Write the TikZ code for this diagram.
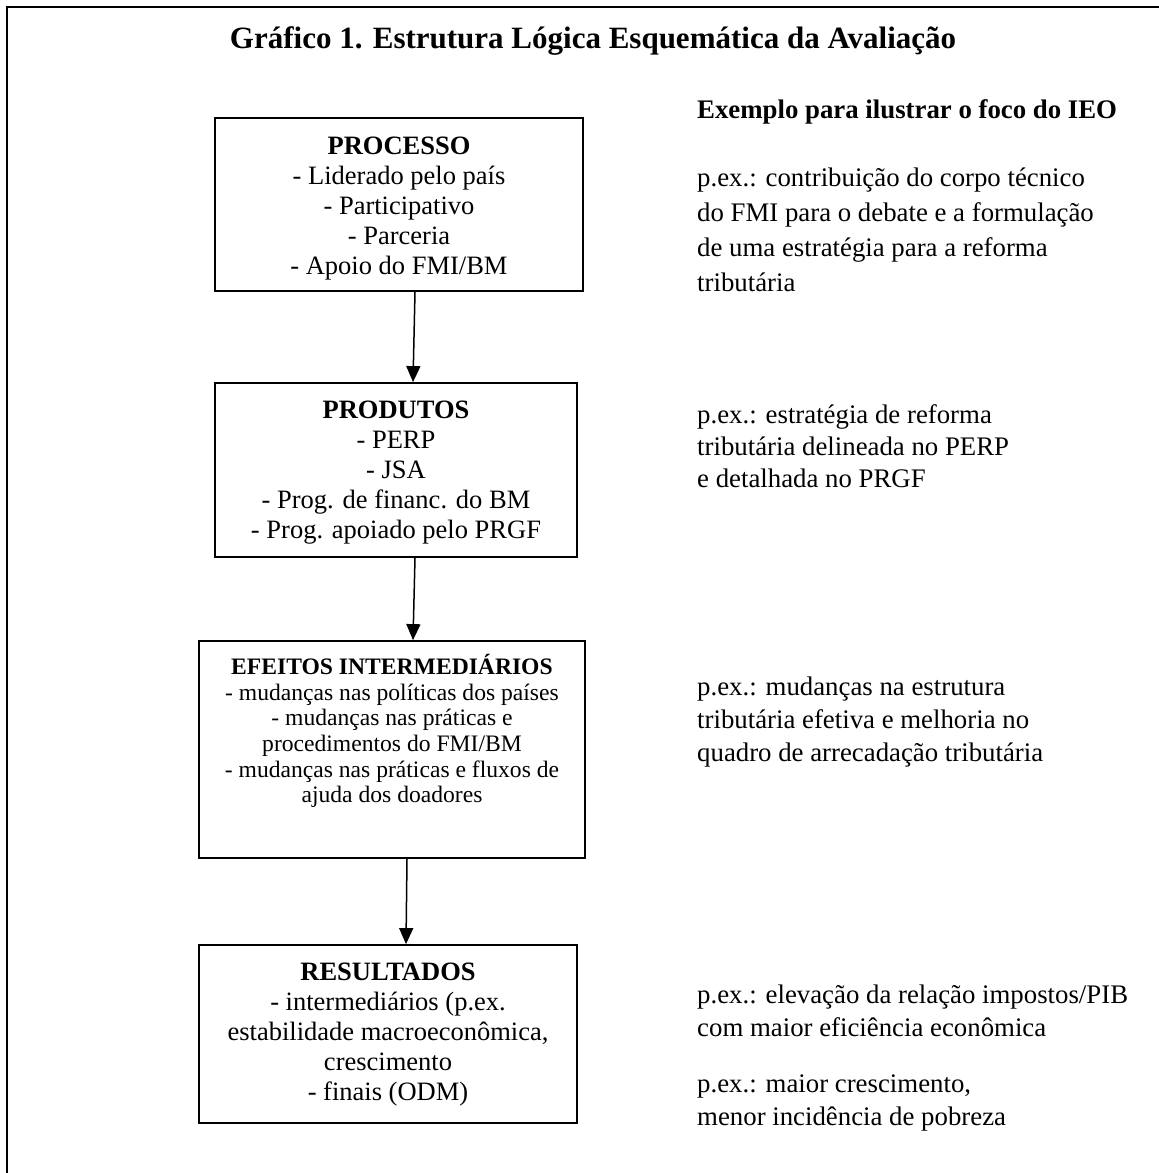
\documentclass[tikz,border=0pt]{standalone}
\usepackage{fontspec}
\setmainfont{Liberation Serif}
\usetikzlibrary{arrows.meta}
\newcommand\boxfont{\fontsize{26.5}{30}\selectfont}
\newcommand\efffont{\fontsize{23.6}{25.6}\selectfont}
\newcommand\sidefont{\fontsize{26.8}{33}\selectfont}
\newcommand\sidefontA{\fontsize{26.8}{35}\selectfont}
\newcommand\sidefontB{\fontsize{26.8}{32}\selectfont}
\newcommand\ttlfont{\fontsize{31}{36}\selectfont\bfseries}
\tikzset{
  stagebox/.style={draw, line width=1.8pt, inner sep=0pt},
  stagetext/.style={align=center, inner sep=0pt, font=\boxfont},
  sidetext/.style={align=left, inner sep=0pt, anchor=west, font=\sidefont},
  flowarrow/.style={line width=1.5pt, -{Triangle[width=14pt,length=16pt]}},
}
\begin{document}
\begin{tikzpicture}[x=1pt, y=-1pt]
\useasboundingbox (0,0) rectangle (1159,1173);
% outer frame (left and top edges)
\draw[line width=2.2pt] (7,1173) -- (7,7) -- (1159,7);

% title
\node[anchor=base, inner sep=0pt, font=\ttlfont] (title) at (593,48)
  {Gráfico 1. Estrutura Lógica Esquemática da Avaliação};

% boxes
\node[stagebox, minimum width=368pt, minimum height=173pt] (proc) at (399,204.5) {};
\node[stagebox, minimum width=362pt, minimum height=174pt] (prod) at (396,470) {};
\node[stagebox, minimum width=386pt, minimum height=217pt] (eff) at (392,749.5) {};
\node[stagebox, minimum width=378pt, minimum height=178pt] (res) at (388,1034) {};

% box texts
\node[stagetext] (proct) at (399,209) {\textbf{PROCESSO}\\- Liderado pelo país\\- Participativo\\- Parceria\\- Apoio do FMI/BM};
\node[stagetext] (prodt) at (396,473) {\textbf{PRODUTOS}\\- PERP\\- JSA\\- Prog. de financ. do BM\\- Prog. apoiado pelo PRGF};
\node[stagetext, font=\efffont] (efft) at (392,731) {\textbf{EFEITOS INTERMEDIÁRIOS}\\- mudanças nas políticas dos países\\- mudanças nas práticas e\\procedimentos do FMI/BM\\- mudanças nas práticas e fluxos de\\ajuda dos doadores};
\node[stagetext] (rest) at (388,1035) {\textbf{RESULTADOS}\\- intermediários (p.ex.\\estabilidade macroeconômica,\\crescimento\\- finais (ODM)};

% connectors
\draw[flowarrow] ([xshift=16pt]proc.south) -- ([xshift=17pt]prod.north);
\draw[flowarrow] ([xshift=19pt]prod.south) -- ([xshift=21pt]eff.north);
\draw[flowarrow] ([xshift=15pt]eff.south) -- ([xshift=18pt]res.north);

% right column
\node[anchor=base west, inner sep=0pt, font=\sidefont\bfseries] (head) at (697,118)
  {Exemplo para ilustrar o foco do IEO};
\node[sidetext, font=\sidefontA] (ex1) at (697,230) {p.ex.: contribuição do corpo técnico\\do FMI para o debate e a formulação\\de uma estratégia para a reforma\\tributária};
\node[sidetext, font=\sidefontB] (ex2) at (697,446) {p.ex.: estratégia de reforma\\tributária delineada no PERP\\e detalhada no PRGF};
\node[sidetext] (ex3) at (697,722) {p.ex.: mudanças na estrutura\\tributária efetiva e melhoria no\\quadro de arrecadação tributária};
\node[sidetext] (ex4) at (697,1011) {p.ex.: elevação da relação impostos/PIB\\com maior eficiência econômica};
\node[sidetext] (ex5) at (697,1103) {p.ex.: maior crescimento,\\menor incidência de pobreza};
\end{tikzpicture}
\end{document}
